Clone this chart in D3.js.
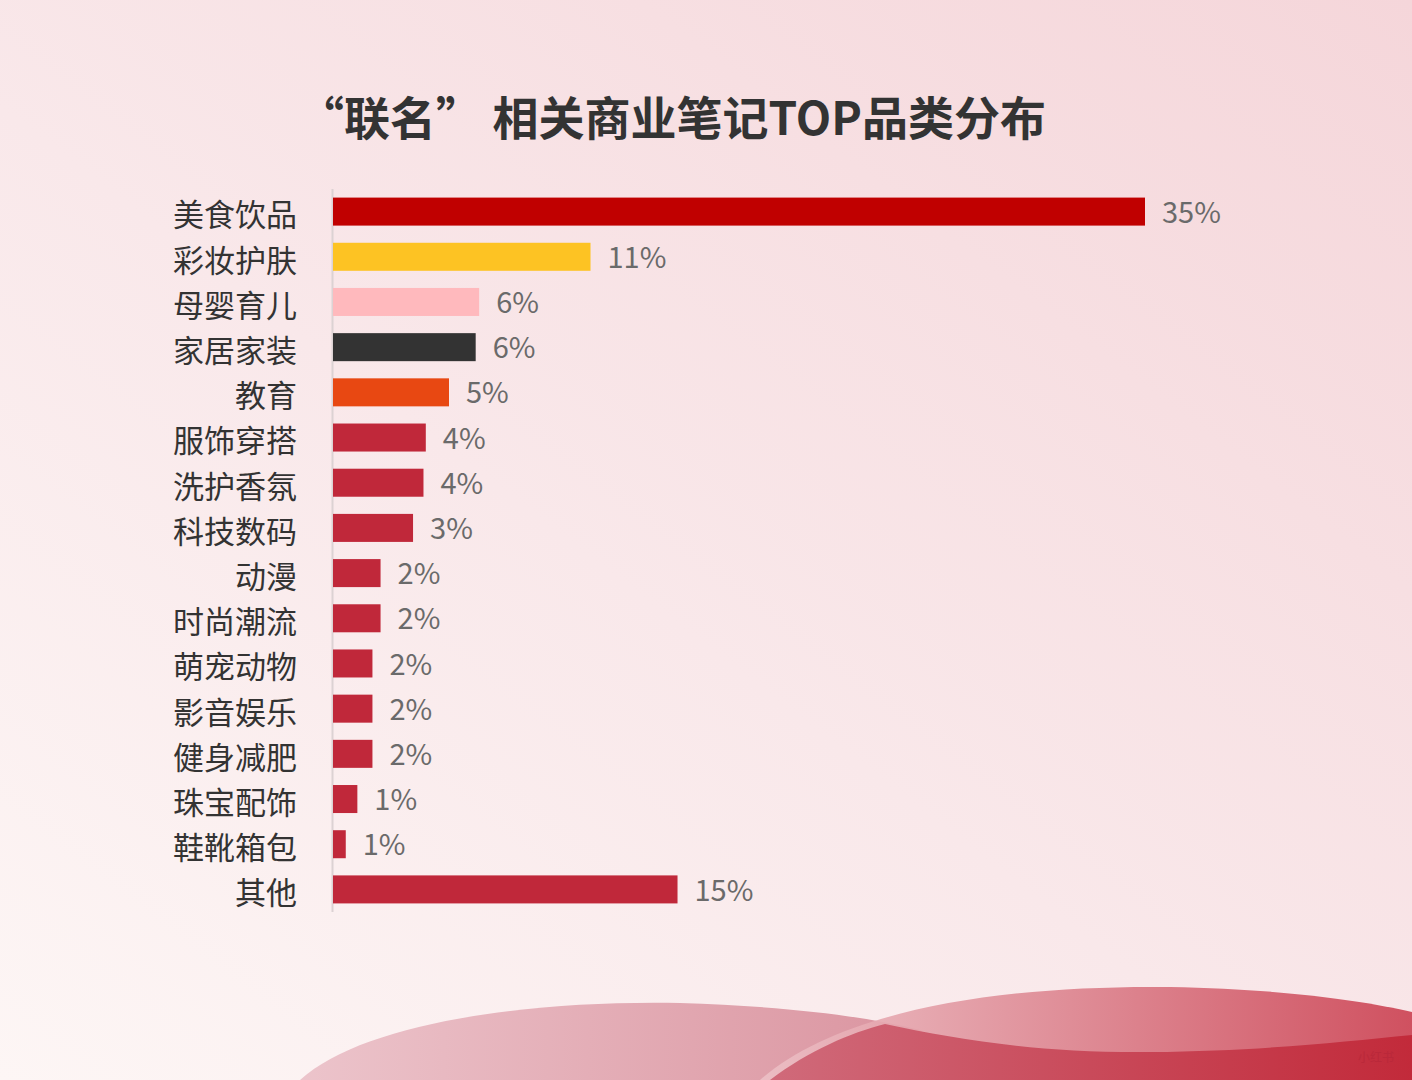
<!DOCTYPE html>
<html>
<head>
<meta charset="utf-8">
<script src="https://cdn.jsdelivr.net/npm/d3@7"></script>
<style>
  body { margin: 0; }
  svg { display: block; font-family: "Noto Sans CJK SC", "Noto Sans", sans-serif; }
</style>
</head>
<body>
<svg width="1412" height="1080"></svg>
<script>
const categories = ['美食饮品', '彩妆护肤', '母婴育儿', '家居家装', '教育', '服饰穿搭', '洗护香氛',
    '科技数码', '动漫', '时尚潮流', '萌宠动物', '影音娱乐', '健身减肥', '珠宝配饰', '鞋靴箱包', '其他'];
const values = [35, 11.1, 6.3, 6.15, 5.0, 4.0, 3.9, 3.45, 2.05, 2.05, 1.7, 1.7, 1.7, 1.05, 0.55, 14.85];
const valueLabels = ['35%', '11%', '6%', '6%', '5%', '4%', '4%', '3%', '2%', '2%', '2%', '2%', '2%', '1%', '1%', '15%'];
const barColors = ['#c00000', '#fdc323', '#ffb9bd', '#333333', '#e84812'];
const defaultColor = '#c0283a';
const chartTitle = '“联名” 相关商业笔记TOP品类分布';

const svg = d3.select('svg');
const width = +svg.attr('width');
const height = +svg.attr('height');

// background
const defs = svg.append('defs');
const bg = defs.append('linearGradient').attr('id', 'bg')
    .attr('x1', '100%').attr('y1', '0%').attr('x2', '0%').attr('y2', '100%');
bg.append('stop').attr('offset', '0%').attr('stop-color', '#f5d6da');
bg.append('stop').attr('offset', '55%').attr('stop-color', '#f9e8ea');
bg.append('stop').attr('offset', '100%').attr('stop-color', '#fdf6f5');
svg.append('rect').attr('width', width).attr('height', height).attr('fill', 'url(#bg)');

const w1 = defs.append('linearGradient').attr('id', 'w1');
w1.append('stop').attr('offset', '0%').attr('stop-color', '#ecc4cb');
w1.append('stop').attr('offset', '100%').attr('stop-color', '#d9909c');
const w2 = defs.append('linearGradient').attr('id', 'w2');
w2.append('stop').attr('offset', '0%').attr('stop-color', '#ecc0c6');
w2.append('stop').attr('offset', '100%').attr('stop-color', '#cc4454');
const w3 = defs.append('linearGradient').attr('id', 'w3');
w3.append('stop').attr('offset', '0%').attr('stop-color', '#d06a7a');
w3.append('stop').attr('offset', '100%').attr('stop-color', '#c22a3a');

const waves = svg.append('g');
waves.append('path')
    .attr('d', 'M300,1080 C360,1025 520,1000 680,1003 C780,1006 860,1015 920,1030 L980,1080 Z')
    .attr('fill', 'url(#w1)');
waves.append('path')
    .attr('d', 'M760,1080 C840,1010 1000,985 1170,987 C1280,989 1360,1000 1412,1012 L1412,1080 Z')
    .attr('fill', 'url(#w2)').attr('opacity', 0.92);
waves.append('path')
    .attr('d', 'M885,1024 C960,1040 1040,1053 1150,1052 C1260,1051 1340,1042 1412,1035 L1412,1080 L770,1080 C810,1050 850,1033 885,1024 Z')
    .attr('fill', 'url(#w3)');
svg.append('text').attr('x', 1376).attr('y', 1062).attr('text-anchor', 'middle')
    .attr('font-size', 12).attr('fill', '#b8283a').attr('opacity', 0.8).text('小红书');

const margin = { top: 189, left: 333 };
const x = d3.scaleLinear().domain([0, 35]).range([0, 812]);
const y = d3.scaleBand().domain(categories).range([0, 723]).paddingInner(0.38).paddingOuter(0.19);

const g = svg.append('g').attr('transform', `translate(${margin.left},${margin.top})`);

g.append('line')
    .attr('x1', -0.5).attr('x2', -0.5).attr('y1', 0).attr('y2', 723)
    .attr('stroke', '#dcd2d3').attr('stroke-width', 2);

g.selectAll('rect.bar').data(categories).join('rect')
    .attr('class', 'bar')
    .attr('x', 0)
    .attr('y', d => y(d))
    .attr('width', (d, i) => x(values[i]))
    .attr('height', y.bandwidth())
    .attr('fill', (d, i) => barColors[i] || defaultColor);

g.selectAll('text.cat').data(categories).join('text')
    .attr('class', 'cat')
    .attr('x', -36)
    .attr('y', d => y(d) + y.bandwidth() / 2 + 4)
    .attr('dy', '0.35em')
    .attr('text-anchor', 'end')
    .attr('font-size', 31)
    .attr('fill', '#333')
    .text(d => d);

g.selectAll('text.val').data(categories).join('text')
    .attr('class', 'val')
    .attr('x', (d, i) => x(values[i]) + 17)
    .attr('y', d => y(d) + y.bandwidth() / 2 + 1)
    .attr('dy', '0.35em')
    .attr('font-size', 29)
    .attr('fill', '#6a6a6a')
    .text((d, i) => valueLabels[i]);

svg.append('text')
    .attr('x', 672).attr('y', 135)
    .attr('text-anchor', 'middle')
    .attr('font-size', 46)
    .attr('font-weight', 'bold')
    .attr('fill', '#333')
    .text(chartTitle);
</script>
</body>
</html>
